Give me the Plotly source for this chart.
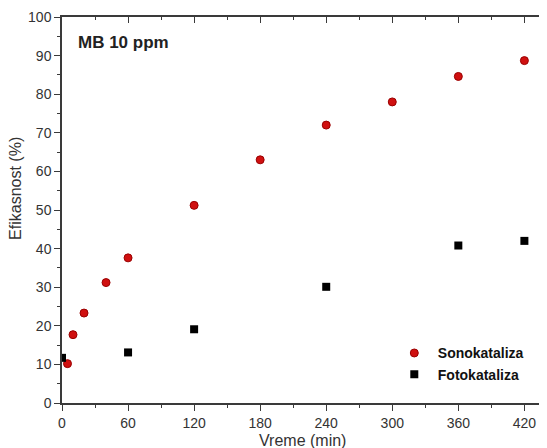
import plotly.graph_objects as go

time_sono = [5, 10, 20, 40, 60, 120, 180, 240, 300, 360, 420]
eff_sono = [10.2, 17.7, 23.3, 31.2, 37.6, 51.2, 63.0, 72.0, 78.0, 84.6, 88.7]
time_foto = [0, 60, 120, 240, 360, 420]
eff_foto = [11.7, 13.1, 19.1, 30.1, 40.8, 42.0]
x_ticks = [0, 60, 120, 180, 240, 300, 360, 420]
y_ticks = [0, 10, 20, 30, 40, 50, 60, 70, 80, 90, 100]

FONT = "Liberation Sans, Arial, sans-serif"
AX = "#3a3a3a"
TXT = "#333333"

fig = go.Figure()
fig.add_trace(go.Scatter(
    x=time_sono, y=eff_sono, mode="markers", name="Sonokataliza",
    marker=dict(symbol="circle", size=8, color="#d01010",
                line=dict(color="#9a0000", width=1)),
))
fig.add_trace(go.Scatter(
    x=time_foto, y=eff_foto, mode="markers", name="Fotokataliza",
    marker=dict(symbol="square", size=8, color="#000000"),
))
# invisible trace to carry the top mirror axis
fig.add_trace(go.Scatter(x=[0], y=[0], xaxis="x2", mode="markers",
                         marker=dict(opacity=0), showlegend=False,
                         hoverinfo="skip"))

fig.update_layout(
    width=539, height=440,
    margin=dict(l=54, r=5, t=9, b=45, autoexpand=False),
    paper_bgcolor="white", plot_bgcolor="white",
    font=dict(family=FONT, color=TXT, size=14),
    showlegend=True,
    legend=dict(x=0.685, y=0.17, xanchor="left", yanchor="top",
                bgcolor="rgba(0,0,0,0)",
                font=dict(family=FONT, size=14, color="#111111",
                          weight="bold"),
                itemwidth=37, tracegroupgap=0),
    xaxis=dict(
        range=[0, 436], tickvals=x_ticks, ticks="outside", ticklen=6,
        tickwidth=1.3, tickcolor=AX, showline=True, linecolor=AX,
        linewidth=1.5, showgrid=False, zeroline=False, automargin=False,
        minor=dict(dtick=30, tick0=0, ticks="outside", ticklen=3,
                   tickcolor=AX, tickwidth=1),
        tickfont=dict(size=14, color=TXT),
    ),
    xaxis2=dict(
        range=[0, 436], overlaying="x", side="top", anchor="y",
        tickvals=x_ticks, ticks="inside", ticklen=6, tickwidth=1.3,
        tickcolor=AX, showline=True, linecolor=AX, linewidth=1.5,
        showticklabels=False, showgrid=False, zeroline=False,
        automargin=False,
        minor=dict(dtick=30, tick0=0, ticks="inside", ticklen=3,
                   tickcolor=AX, tickwidth=1),
    ),
    yaxis=dict(
        range=[0, 100], tickvals=y_ticks, ticks="outside", ticklen=6,
        tickwidth=1.3, tickcolor=AX, showline=True, linecolor=AX,
        linewidth=1.5, mirror=True, showgrid=False, zeroline=False,
        automargin=False,
        minor=dict(dtick=5, tick0=0, ticks="outside", ticklen=3,
                   tickcolor=AX, tickwidth=1),
        tickfont=dict(size=14, color=TXT),
    ),
    annotations=[
        dict(text="<b>MB 10 ppm</b>", xref="paper", yref="paper",
             x=0.03, y=0.935, xanchor="left", yanchor="middle",
             showarrow=False, font=dict(family=FONT, size=17, color="#222222")),
        dict(text="Efikasnost (%)", xref="paper", yref="paper",
             x=-0.096, y=0.557, xanchor="center", yanchor="middle",
             textangle=-90, showarrow=False,
             font=dict(family=FONT, size=16, color=TXT)),
        dict(text="Vreme (min)", xref="paper", yref="paper",
             x=0.5, y=-0.096, xanchor="center", yanchor="middle",
             showarrow=False, font=dict(family=FONT, size=16, color=TXT)),
    ],
)

fig.write_html("out.html")
